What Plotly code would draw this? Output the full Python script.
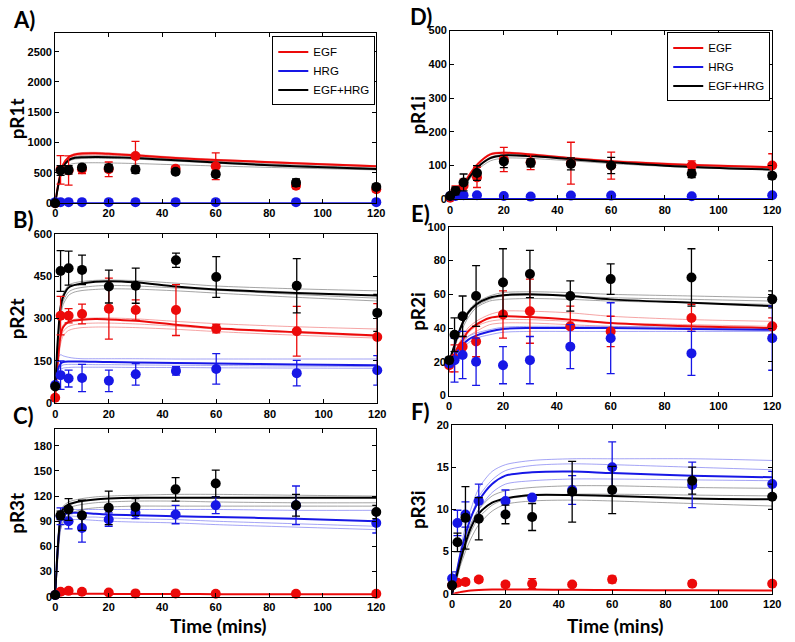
import plotly.graph_objects as go

W, H = 795, 642

# ---------------- data ----------------
T_DATA = [0, 2, 5, 10, 20, 30, 45, 60, 90, 120]
T_FIT = [0, 1, 2, 3, 5, 7, 10, 15, 20, 30, 45, 60, 90, 120]
CONDITIONS = ["EGF", "HRG", "EGF+HRG"]
X_TICKS = [0, 20, 40, 60, 80, 100, 120]

# Panel A: pR1t
A_EGF = [0, 550, 540, 560, 560, 780, 570, 610, 290, 230]
A_EGF_ERR = [0, 235, 240, 70, 120, 240, 40, 220, 50, 40]
A_HRG = [18, 18, 18, 18, 18, 18, 18, 18, 18, 18]
A_HRG_ERR = [0, 0, 0, 0, 0, 0, 0, 0, 0, 0]
A_BK = [0, 540, 550, 590, 580, 555, 520, 480, 340, 270]
A_BK_ERR = [0, 80, 70, 50, 60, 60, 40, 50, 60, 40]
A_EGF_FIT = [0, 280, 500, 640, 760, 800, 820, 825, 815, 790, 745, 715, 660, 610]
A_HRG_FIT = [0, 1, 2, 2, 2, 2, 2, 2, 2, 2, 2, 2, 2, 2]
A_BK_FIT = [0, 260, 470, 600, 710, 745, 758, 762, 760, 745, 710, 670, 610, 565]
A_EGF_ENS = [
    [0, 290, 520, 660, 775, 815, 835, 840, 830, 805, 760, 725, 670, 620],
    [0, 260, 470, 610, 730, 770, 790, 795, 790, 770, 730, 700, 650, 600],
    [0, 270, 490, 625, 745, 785, 805, 810, 805, 780, 740, 710, 655, 605],
]
A_BK_ENS = [
    [0, 240, 430, 540, 630, 655, 665, 668, 665, 655, 635, 615, 580, 550],
    [0, 265, 480, 615, 725, 760, 775, 780, 776, 760, 725, 690, 630, 580],
    [0, 250, 455, 580, 690, 725, 738, 742, 740, 728, 695, 660, 600, 555],
]
A_HRG_ENS = []

# Panel B: pR2t
B_EGF = [20, 310, 310, 316, 335, 330, 330, 264, 255, 235]
B_EGF_ERR = [5, 68, 25, 35, 108, 36, 90, 15, 88, 118]
B_HRG = [65, 100, 88, 90, 80, 103, 115, 122, 107, 117]
B_HRG_ERR = [10, 50, 30, 48, 38, 38, 15, 54, 45, 52]
B_BK = [60, 468, 478, 472, 413, 416, 506, 447, 416, 320]
B_BK_ERR = [10, 72, 60, 52, 58, 62, 25, 72, 96, 65]
B_EGF_FIT = [20, 150, 240, 270, 288, 293, 296, 298, 297, 292, 278, 266, 252, 240]
B_HRG_FIT = [65, 120, 140, 146, 148, 148, 148, 147, 146, 145, 143, 141, 138, 135]
B_BK_FIT = [60, 230, 340, 378, 410, 418, 424, 430, 432, 428, 413, 403, 390, 381]
B_EGF_ENS = [
    [20, 160, 250, 278, 292, 297, 300, 302, 302, 299, 290, 282, 271, 263],
    [20, 130, 210, 240, 258, 264, 268, 270, 270, 268, 262, 254, 241, 231],
    [20, 140, 225, 255, 272, 278, 282, 284, 284, 281, 273, 263, 249, 237],
]
B_HRG_ENS = [
    [65, 160, 172, 168, 163, 160, 158, 158, 158, 158, 157, 157, 157, 157],
    [65, 105, 120, 125, 127, 128, 128, 128, 128, 127, 127, 126, 125, 124],
    [65, 112, 130, 136, 138, 138, 138, 137, 137, 136, 135, 134, 132, 130],
]
B_BK_ENS = [
    [60, 235, 345, 388, 418, 426, 431, 435, 436, 434, 425, 415, 405, 398],
    [60, 205, 305, 350, 382, 393, 399, 403, 405, 404, 398, 390, 375, 362],
    [60, 215, 320, 362, 394, 404, 410, 415, 417, 415, 408, 400, 385, 372],
]

# Panel C: pR3t
C_EGF = [2, 6, 7, 6, 5, 4, 4, 3.5, 3.5, 3.5]
C_EGF_ERR = [0, 0.5, 0.5, 0.5, 0.5, 0.5, 0.5, 0.5, 0.5, 0.5]
C_HRG = [2, 96, 90, 82, 92, 100, 98, 109, 109, 88]
C_HRG_ERR = [1, 10, 9, 17, 8, 7, 11, 10, 23, 12]
C_BK = [2, 97, 104, 97, 106, 107, 128, 135, 109, 101]
C_BK_ERR = [1, 5, 13, 18, 20, 10, 14, 16, 13, 8]
C_EGF_FIT = [0, 1.5, 2.5, 3, 3.5, 3.5, 3.5, 3.5, 3.4, 3.3, 3.2, 3.1, 3, 3]
C_HRG_FIT = [2, 60, 90, 97, 100, 100, 100, 99, 98, 97, 96, 95, 93, 90]
C_BK_FIT = [2, 60, 95, 105, 110, 112, 114, 116, 117, 118, 118, 118, 118, 118]
C_EGF_ENS = []
C_HRG_ENS = [
    [2, 65, 95, 102, 104, 104, 104, 104, 104, 104, 104, 104, 103, 103],
    [2, 50, 80, 88, 92, 92, 92, 91, 90, 89, 88, 86, 83, 80],
    [2, 55, 85, 93, 96, 96, 95, 95, 94, 93, 92, 90, 87, 84],
]
C_BK_ENS = [
    [2, 65, 100, 108, 113, 115, 117, 119, 120, 121, 122, 122, 121, 120],
    [2, 45, 80, 90, 98, 101, 104, 106, 107, 108, 108, 108, 108, 108],
    [2, 55, 90, 100, 106, 108, 110, 112, 113, 114, 114, 113, 112, 112],
]

# Panel D: pR1i
D_EGF = [5, 25, 40, 65, 118, 110, 107, 100, 100, 100]
D_EGF_ERR = [3, 15, 20, 30, 36, 22, 62, 40, 14, 35]
D_HRG = [10, 10, 12, 12, 10, 8, 11, 11, 9, 12]
D_HRG_ERR = [0, 0, 0, 0, 0, 0, 0, 0, 0, 0]
D_BK = [10, 25, 50, 78, 112, 108, 105, 100, 76, 70]
D_BK_ERR = [5, 12, 25, 22, 18, 12, 18, 24, 12, 10]
D_EGF_FIT = [0, 3, 10, 20, 45, 70, 102, 133, 138, 133, 122, 113, 102, 95]
D_HRG_FIT = [0, 0.5, 1, 1, 1, 1, 1, 1, 1, 1, 1, 1, 1, 1]
D_BK_FIT = [0, 2, 8, 17, 40, 63, 93, 122, 130, 128, 119, 110, 96, 88]
D_EGF_ENS = [
    [0, 3, 11, 22, 48, 74, 106, 136, 140, 135, 124, 115, 104, 97],
    [0, 2, 9, 18, 40, 64, 95, 125, 130, 127, 118, 110, 100, 93],
]
D_HRG_ENS = []
D_BK_ENS = [
    [0, 2, 7, 15, 36, 57, 86, 114, 122, 121, 114, 106, 94, 87],
    [0, 2, 8, 18, 42, 66, 97, 125, 133, 131, 121, 112, 98, 90],
]

# Panel E: pR2i
E_EGF = [18, 22, 29, 32, 48, 50, 41, 38, 46, 41]
E_EGF_ERR = [4, 8, 6, 9, 14, 19, 12, 9, 8, 5]
E_HRG = [19, 21, 24, 20, 18, 21, 29, 34, 25, 34]
E_HRG_ERR = [2, 13, 14, 14, 11, 14, 13, 21, 13, 19]
E_BK = [21, 36, 47, 59, 67, 72, 59, 69, 70, 57]
E_BK_ERR = [2, 10, 12, 18, 20, 14, 9, 9, 17, 5]
E_EGF_FIT = [18, 21, 24, 28, 33, 38, 42, 46, 47, 46.5, 45, 43, 41, 40]
E_HRG_FIT = [19, 21, 23, 26, 30, 33, 35.5, 38, 39.5, 40, 40, 40, 39.5, 39]
E_BK_FIT = [20, 25, 30, 35, 43, 49, 54, 58, 59.5, 60, 59, 57, 55, 53]
E_EGF_ENS = [
    [18, 21, 25, 29, 35, 40, 44, 48, 50, 50, 49, 47, 45, 44],
    [18, 20, 23, 26, 31, 35, 38, 42, 43, 43, 42, 41, 40, 39],
    [18, 21, 24, 27, 32, 37, 41, 44, 45, 45, 44, 43, 42, 41],
]
E_HRG_ENS = [
    [19, 22, 25, 28, 32, 35, 37, 39, 40.5, 41, 41, 41, 40.5, 40],
    [19, 20, 22, 24, 28, 31, 34, 36, 37.5, 38, 38, 38, 38, 38],
]
E_BK_ENS = [
    [20, 25, 30, 35, 44, 50, 55, 59, 61, 61.5, 61, 60, 59, 58],
    [20, 24, 28, 33, 40, 46, 52, 56, 57, 57.5, 57, 56, 55, 54],
    [20, 24, 29, 34, 42, 48, 53, 57, 59, 59.5, 59, 58, 57, 56],
]

# Panel F: pR3i
F_EGF = [1, 1.3, 1.4, 1.7, 1.1, 1.2, 1.1, 1.7, 1.2, 1.2]
F_EGF_ERR = [0.2, 0.3, 0.3, 0.3, 0.3, 0.6, 0.1, 0.4, 0.3, 0.1]
F_HRG = [1.8, 8.4, 9.4, 11, 11, 11.4, 12.3, 15, 12.9, 13]
F_HRG_ERR = [0.8, 1.5, 1.5, 2, 1.3, 0.3, 1.7, 3, 2.7, 1.5]
F_BK = [1, 6.1, 9, 8.9, 9.4, 9.1, 12.1, 12.3, 13.4, 11.5]
F_BK_ERR = [0.3, 1.1, 3.7, 2.5, 1.1, 1.6, 3.6, 2.8, 1.6, 1.5]
F_EGF_FIT = [0, 0.05, 0.12, 0.2, 0.3, 0.38, 0.45, 0.5, 0.52, 0.5, 0.47, 0.45, 0.42, 0.4]
F_HRG_FIT = [0, 1.5, 3, 4.5, 7, 9, 11, 13, 14, 14.4, 14.5, 14.3, 14, 13.8]
F_BK_FIT = [0, 1.2, 2.5, 3.8, 6, 7.8, 9.5, 10.8, 11.3, 11.7, 11.7, 11.6, 11.3, 11.2]
F_EGF_ENS = []
F_HRG_ENS = [
    [0, 1.5, 3, 5, 8, 10, 12.5, 14.5, 15.3, 15.8, 16, 16, 16, 15.8],
    [0, 1.2, 2.5, 4, 6, 8, 10, 12, 13, 13.4, 13.6, 13.6, 13.5, 13.4],
    [0, 1.4, 2.8, 4.5, 7, 9, 11.5, 13.5, 14.6, 15.2, 15.4, 15.3, 15, 14.7],
]
F_BK_ENS = [
    [0, 1.3, 2.7, 4, 6.5, 8.3, 10, 11.6, 12.2, 12.6, 12.8, 12.8, 12.6, 12.5],
    [0, 1, 2, 3.2, 5, 6.5, 8.2, 9.8, 10.6, 11, 11.1, 11, 10.7, 10.4],
    [0, 1.1, 2.3, 3.5, 5.6, 7.3, 9, 10.5, 11.2, 11.6, 11.8, 11.8, 11.7, 11.6],
]

# ---------------- styling ----------------
COL = {"EGF": "#ec0a0a", "HRG": "#1717e6", "EGF+HRG": "#000000"}
THIN = {"EGF": "rgba(240,120,120,0.85)", "HRG": "rgba(120,120,240,0.85)",
        "EGF+HRG": "rgba(120,120,120,0.85)"}
TICKFONT = dict(family="Liberation Sans", size=11, color="black", weight="bold")
LABFONT = "Lato"

PANELS = [
    dict(letter="A)", ylab="pR1t", box=(53, 28, 379, 201), yr=[0, 2800],
         yt=[0, 500, 1000, 1500, 2000, 2500], time=False, legend="legend",
         pts=[(A_EGF, A_EGF_ERR), (A_HRG, A_HRG_ERR), (A_BK, A_BK_ERR)],
         fit=[A_EGF_FIT, A_HRG_FIT, A_BK_FIT], ens=[A_EGF_ENS, A_HRG_ENS, A_BK_ENS]),
    dict(letter="B)", ylab="pR2t", box=(53, 232, 380, 405), yr=[0, 600],
         yt=[0, 150, 300, 450, 600], time=False, legend=None,
         pts=[(B_EGF, B_EGF_ERR), (B_HRG, B_HRG_ERR), (B_BK, B_BK_ERR)],
         fit=[B_EGF_FIT, B_HRG_FIT, B_BK_FIT], ens=[B_EGF_ENS, B_HRG_ENS, B_BK_ENS]),
    dict(letter="C)", ylab="pR3t", box=(53, 431, 379, 602), yr=[0, 200],
         yt=[0, 30, 60, 90, 120, 150, 180], time=True, legend=None,
         pts=[(C_EGF, C_EGF_ERR), (C_HRG, C_HRG_ERR), (C_BK, C_BK_ERR)],
         fit=[C_EGF_FIT, C_HRG_FIT, C_BK_FIT], ens=[C_EGF_ENS, C_HRG_ENS, C_BK_ENS]),
    dict(letter="D)", ylab="pR1i", box=(454, 25, 781, 197), yr=[0, 500],
         yt=[0, 100, 200, 300, 400, 500], time=False, legend="legend2",
         pts=[(D_EGF, D_EGF_ERR), (D_HRG, D_HRG_ERR), (D_BK, D_BK_ERR)],
         fit=[D_EGF_FIT, D_HRG_FIT, D_BK_FIT], ens=[D_EGF_ENS, D_HRG_ENS, D_BK_ENS]),
    dict(letter="E)", ylab="pR2i", box=(453, 225, 781, 397), yr=[0, 100],
         yt=[0, 20, 40, 60, 80, 100], time=False, legend=None,
         pts=[(E_EGF, E_EGF_ERR), (E_HRG, E_HRG_ERR), (E_BK, E_BK_ERR)],
         fit=[E_EGF_FIT, E_HRG_FIT, E_BK_FIT], ens=[E_EGF_ENS, E_HRG_ENS, E_BK_ENS]),
    dict(letter="F)", ylab="pR3i", box=(456, 427, 781, 599), yr=[0, 20],
         yt=[0, 5, 10, 15, 20], time=True, legend=None,
         pts=[(F_EGF, F_EGF_ERR), (F_HRG, F_HRG_ERR), (F_BK, F_BK_ERR)],
         fit=[F_EGF_FIT, F_HRG_FIT, F_BK_FIT], ens=[F_EGF_ENS, F_HRG_ENS, F_BK_ENS]),
]

fig = go.Figure()
annotations = []
layout_axes = {}


def ann(text, x, y, size, angle=0):
    return dict(text=text, x=x / W, y=1 - y / H, xref="paper", yref="paper",
                xanchor="center", yanchor="middle", showarrow=False, textangle=angle,
                font=dict(family=LABFONT, size=size, color="black"))


for i, p in enumerate(PANELS):
    n = i + 1
    xa, ya = f"x{n}", f"y{n}"
    x0, y0, x1, y1 = p["box"]
    for c, ens in zip(CONDITIONS, p["ens"]):
        for curve in ens:
            fig.add_trace(go.Scatter(x=T_FIT, y=curve, mode="lines", xaxis=xa, yaxis=ya,
                                     line=dict(color=THIN[c], width=0.8, shape="spline", smoothing=0.8),
                                     showlegend=False, hoverinfo="skip"))
    for c, curve in zip(CONDITIONS, p["fit"]):
        if p["legend"]:
            kw = dict(showlegend=True, legend=p["legend"], name=c)
        else:
            kw = dict(showlegend=False)
        fig.add_trace(go.Scatter(x=T_FIT, y=curve, mode="lines", xaxis=xa, yaxis=ya,
                                 line=dict(color=COL[c], width=2, shape="spline", smoothing=0.8),
                                 **kw))
    for c, (vals, err) in zip(CONDITIONS, p["pts"]):
        fig.add_trace(go.Scatter(x=T_DATA, y=vals, mode="markers", xaxis=xa, yaxis=ya,
                                 marker=dict(color=COL[c], size=10, symbol="circle"),
                                 error_y=dict(type="data", array=err, color=COL[c],
                                              thickness=1.3, width=4, visible=True),
                                 cliponaxis=False, showlegend=False))
    common = dict(showline=True, linecolor="black", linewidth=1, mirror="ticks",
                  ticks="inside", ticklen=4, tickcolor="black", showgrid=False,
                  zeroline=False, tickfont=TICKFONT)
    layout_axes[f"xaxis{n}"] = dict(domain=[x0 / W, x1 / W], anchor=ya, range=[0, 120],
                                    tickvals=X_TICKS, **common)
    layout_axes[f"yaxis{n}"] = dict(domain=[1 - y1 / H, 1 - y0 / H], anchor=xa, range=p["yr"],
                                    tickvals=p["yt"], **common)
    left = x0 < 300
    annotations.append(ann(f"<b>{p['letter']}</b>", 21 if left else 424, y0 - 14, 22))
    annotations.append(ann(f"<b>{p['ylab']}</b>", 14 if left else 421, (y0 + y1) / 2, 19, -90))
    if p["time"]:
        annotations.append(ann("<b>Time (mins)</b>", (x0 + x1) / 2 + 3, 631, 19))

legend_common = dict(bordercolor="black", borderwidth=1, bgcolor="white",
                     font=dict(family="Liberation Sans", size=11.5, color="black"),
                     itemwidth=30, tracegroupgap=0, xanchor="right", yanchor="top",
                     traceorder="normal")

fig.update_layout(
    width=W, height=H, margin=dict(l=0, r=0, t=0, b=0),
    paper_bgcolor="white", plot_bgcolor="white",
    annotations=annotations,
    legend=dict(x=378 / W, y=1 - 31 / H, **legend_common),
    legend2=dict(x=779 / W, y=1 - 27 / H, **legend_common),
    **layout_axes,
)

fig.write_html("out.html", config={"displayModeBar": False},
               post_script="document.body.style.margin='0px';document.body.style.overflow='hidden';")
